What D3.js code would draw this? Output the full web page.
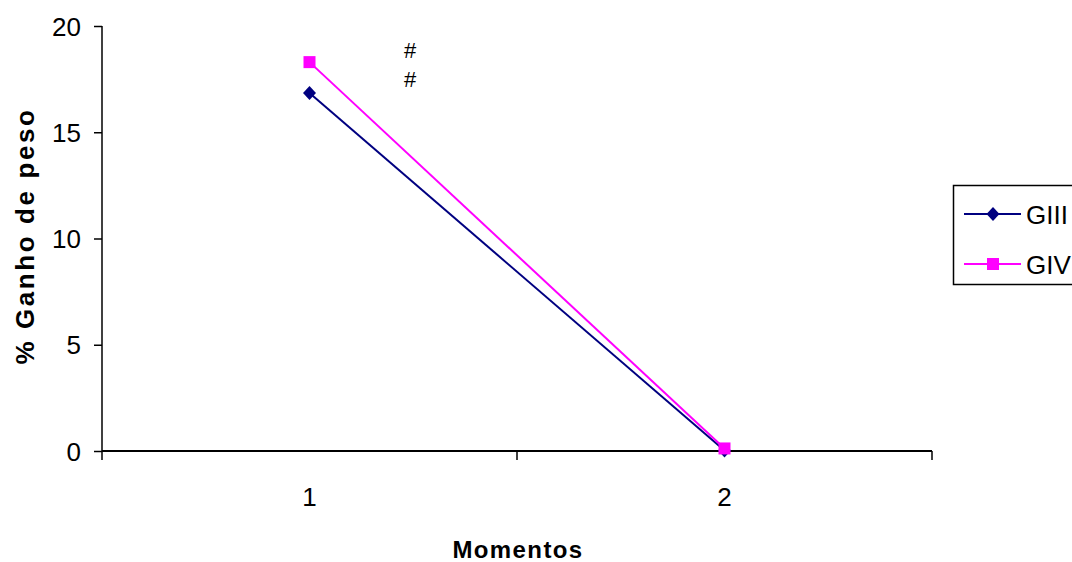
<!DOCTYPE html>
<html><head><meta charset="utf-8">
<script src="https://cdn.jsdelivr.net/npm/d3@7"></script>
<style>body{margin:0;background:#fff}svg{display:block}text{font-family:"Liberation Sans",Arial,sans-serif}</style>
</head><body>
<svg id="c" width="1072" height="562"></svg>
<script>
const categories = ["1", "2"];
const seriesNames = ["GIII", "GIV"];
const giii = [16.85, 0.02];
const giv = [18.3, 0.12];
const yTicks = [0, 5, 10, 15, 20];
const annotations = ["#", "#"];

const svg = d3.select("#c");
const x = d3.scaleBand().domain(categories).range([102, 932]).padding(0);
const y = d3.scaleLinear().domain([0, 20]).range([451, 26]);
const colors = {GIII: "#000080", GIV: "#FF00FF"};
const series = seriesNames.map((n, i) => ({name: n, values: [giii, giv][i]}));
const FS = 26;

// y axis
const ya = svg.append("g").attr("transform", "translate(102,0)")
  .call(d3.axisLeft(y).tickValues(yTicks).tickSize(8).tickPadding(13).tickFormat(d3.format("d")));
ya.attr("font-family", null).attr("font-size", null);
ya.select(".domain").attr("stroke", "#000").attr("stroke-width", 1.5).attr("d", `M0,${y(20)}V${y(0)}`);
ya.selectAll(".tick line").attr("stroke", "#000").attr("stroke-width", 1.5);
ya.selectAll("text").attr("font-size", FS).attr("fill", "#000").attr("dy", "0.35em");

// x axis
const xa = svg.append("g").attr("transform", `translate(0,${y(0)})`);
xa.append("line").attr("x1", 102).attr("x2", 932).attr("y1", 0).attr("y2", 0).attr("stroke", "#000").attr("stroke-width", 2);
const bounds = [x.range()[0]].concat(categories.map(c => x(c) + x.bandwidth()));
xa.selectAll("line.t").data(bounds).enter().append("line").attr("class", "t")
  .attr("x1", d => d).attr("x2", d => d).attr("y1", 0).attr("y2", 9).attr("stroke", "#000").attr("stroke-width", 1.5);
xa.selectAll("text").data(categories).enter().append("text")
  .attr("x", d => x(d) + x.bandwidth() / 2).attr("y", 55).attr("text-anchor", "middle")
  .attr("font-size", FS).attr("fill", "#000").text(d => d);

// lines
const cx = c => x(c) + x.bandwidth() / 2;
const line = d3.line().x((d, i) => cx(categories[i])).y(d => y(d));
series.forEach(s => {
  svg.append("path").datum(s.values).attr("d", line).attr("fill", "none")
    .attr("stroke", colors[s.name]).attr("stroke-width", 2);
});
// markers
function marker(g, name, px, py) {
  if (name === "GIII") {
    g.append("path").attr("d", `M${px},${py - 7}L${px + 6.5},${py}L${px},${py + 7}L${px - 6.5},${py}Z`)
      .attr("fill", colors[name]);
  } else {
    g.append("rect").attr("x", px - 6).attr("y", py - 6).attr("width", 12).attr("height", 12)
      .attr("fill", colors[name]);
  }
}
series.forEach(s => {
  const g = svg.append("g");
  s.values.forEach((v, i) => marker(g, s.name, cx(categories[i]), y(v)));
});

// annotations
svg.selectAll("text.ann").data(annotations).enter().append("text").attr("class", "ann")
  .attr("x", 410).attr("y", (d, i) => 58 + i * 29).attr("text-anchor", "middle")
  .attr("font-size", 22).attr("fill", "#000").text(d => d);

// axis titles
svg.append("text").attr("transform", "translate(34,236) rotate(-90)").attr("text-anchor", "middle")
  .attr("font-size", 26).attr("font-weight", "bold").attr("letter-spacing", 2.6).attr("fill", "#000").text("% Ganho de peso");
svg.append("text").attr("x", 518).attr("y", 558).attr("text-anchor", "middle")
  .attr("font-size", 24).attr("font-weight", "bold").attr("letter-spacing", 1.4).attr("fill", "#000").text("Momentos");

// legend
const lg = svg.append("g");
lg.append("rect").attr("x", 953.5).attr("y", 185.5).attr("width", 130).attr("height", 99)
  .attr("fill", "#fff").attr("stroke", "#000").attr("stroke-width", 1.5);
series.forEach((s, i) => {
  const ly = 214 + i * 50;
  lg.append("line").attr("x1", 964).attr("x2", 1021).attr("y1", ly).attr("y2", ly)
    .attr("stroke", colors[s.name]).attr("stroke-width", 2);
  marker(lg, s.name, 993, ly);
  lg.append("text").attr("x", 1026).attr("y", ly + 10).attr("font-size", FS).attr("fill", "#000").text(s.name);
});
</script>
</body></html>
